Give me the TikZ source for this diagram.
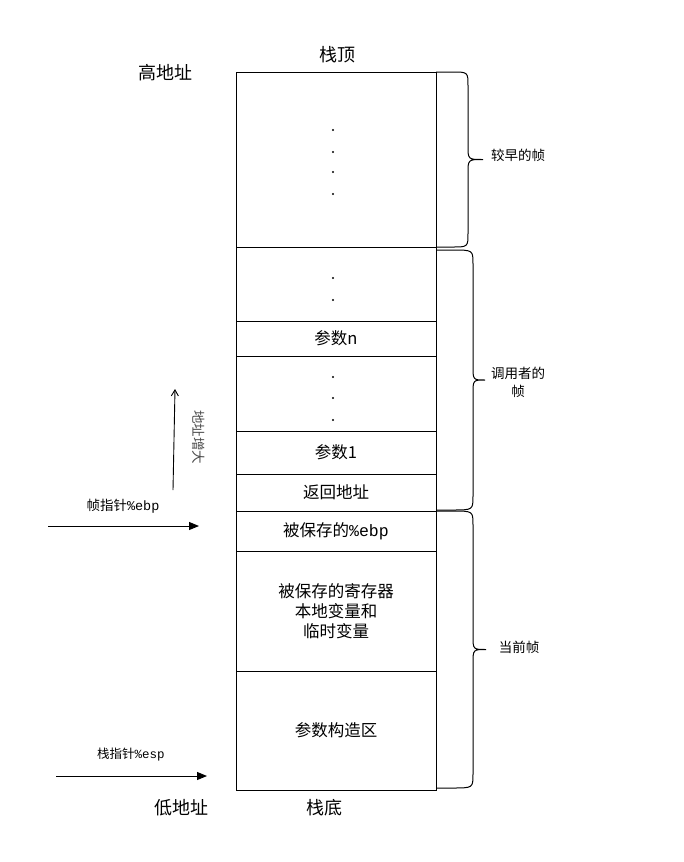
\documentclass[tikz,border=0pt]{standalone}
\usepackage{fontspec}
\setmainfont{Noto Sans CJK SC}
\setmonofont{Liberation Mono}
\usetikzlibrary{arrows.meta, positioning, calc}
\tikzset{
  slot/.style={
    rectangle, draw=black, line width=1pt,
    minimum width=200pt, minimum height=#1,
    inner sep=0pt, outer sep=0pt,
    text centered, font=\fontsize{16.5}{20}\selectfont
  },
  sidelabel/.style={font=\fontsize{13.5}{18}\selectfont, align=center},
  biglabel/.style={font=\fontsize{18}{21}\selectfont},
  ptrarrow/.style={-{Triangle[length=10pt,width=8pt]}, line width=1pt},
  framebrace/.style={line width=1pt},
}
\newcommand{\reg}[1]{{\ttfamily\%#1}}
% brace: top y, bottom y, straight x, tip x
\newcommand{\framebr}[4]{%
  \draw[framebrace] (436,#1) -- (452,#1)
    .. controls (#3,#1) .. (#3,#1+14) -- (#3,{(#1+#2)/2-14})
    .. controls (#3,{(#1+#2)/2}) .. (#4,{(#1+#2)/2})
    .. controls (#3,{(#1+#2)/2}) .. (#3,{(#1+#2)/2+14}) -- (#3,#2-14)
    .. controls (#3,#2) .. (452,#2) -- (436,#2);}

\begin{document}
\begin{tikzpicture}[x=1pt,y=-1pt]
  \useasboundingbox (0,0) rectangle (683,862);

  % stack slots
  \node[slot=175pt] (older)  at (336,159.5) {};
  \node[slot=74pt]  (cdots)  at (336,284)   {};
  \node[slot=35pt]  (argn)   at (336,338.5) {参数n};
  \node[slot=75pt]  (amid)   at (336,393.5) {};
  \node[slot=43pt]  (arg1)   at (336,452.5) {参数1};
  \node[slot=37pt]  (ret)    at (336,492.5) {返回地址};
  \node[slot=40pt]  (oldebp) at (336,531)   {被保存的\reg{ebp}};
  \node[slot=120pt, align=center] (locals) at (336,611)
    {被保存的寄存器\\本地变量和\\临时变量};
  \node[slot=119pt] (build)  at (336,730.5) {参数构造区};

  \foreach \y in {130,152,172,194} \fill (333,\y) circle (1.1pt);
  \foreach \y in {278,300} \fill (333,\y) circle (1.1pt);
  \foreach \y in {377,398,420} \fill (333,\y) circle (1.1pt);

  \node[biglabel] (top)    at (337,55)  {栈顶};
  \node[biglabel] (bottom) at (324,808) {栈底};
  \node[biglabel] (high)   at (165,73)  {高地址};
  \node[biglabel] (low)    at (181,808) {低地址};

  % braces
  \framebr{72}{247}{468}{483}
  \framebr{250}{510}{473}{485}
  \framebr{511}{788}{473}{486}
  \node[sidelabel] (early)  at (518,155) {较早的帧};
  \node[sidelabel] (caller) at (518,382) {调用者的\\帧};
  \node[sidelabel] (cur)    at (519,647) {当前帧};

  % pointers
  \coordinate (ebpfrom) at (48,526);
  \coordinate (ebpto)   at (199,526);
  \draw[ptrarrow] (ebpfrom) -- (ebpto);
  \node[sidelabel] (ebp) at (123,506) {帧指针\reg{ebp}};

  \coordinate (espfrom) at (56,776);
  \coordinate (espto)   at (207,776);
  \draw[ptrarrow] (espfrom) -- (espto);
  \node[font=\fontsize{12.5}{15}\selectfont] (esp) at (131,755) {栈指针\reg{esp}};

  \coordinate (growfrom) at (173,490);
  \coordinate (growto)   at (175,389);
  \draw[-{Straight Barb[length=6pt,width=7pt]}, line width=0.9pt] (growfrom) -- (growto);
  \node[sidelabel, text=black!70, rotate=-90] (grow) at (199,437) {地址增大};
\end{tikzpicture}
\end{document}
